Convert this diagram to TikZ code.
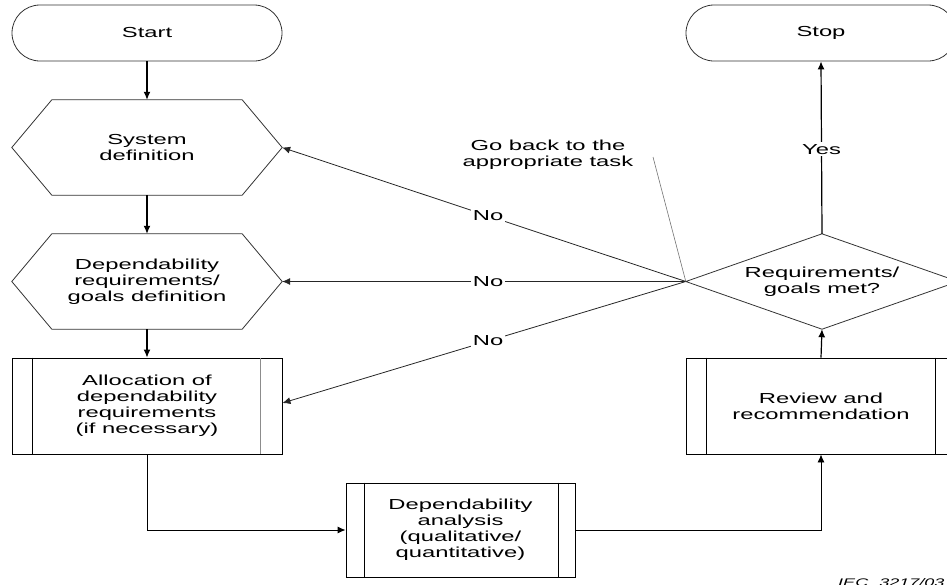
\documentclass[tikz,border=0pt]{standalone}
\usepackage{fontspec}
\setmainfont{Liberation Sans}[FakeStretch=1.64]
\usetikzlibrary{arrows.meta,calc}

\tikzset{
  lbl/.style={font=\fontsize{14.5}{16}\selectfont, align=center, text=black},
  frame/.style={lbl, inner sep=0pt, minimum width=270pt, minimum height=95pt},
  boxed/.style={frame, draw=black, line width=0.9pt, minimum height=96pt},
  outline/.style={draw=black!80, line width=0.8pt},
  flow/.style={draw=black, line width=1.2pt, -{Latex[length=8pt,width=7pt]}},
  back/.style={draw=black!85, line width=0.8pt, -{Latex[length=8pt,width=7pt]}},
  tag/.style={lbl, fill=white, inner sep=2pt},
}

\begin{document}
\begin{tikzpicture}[x=1pt, y=-1pt]
\useasboundingbox (0,0) rectangle (947,584);
\clip (0,0) rectangle (947,584);

% terminals
\node[frame, minimum height=56pt, draw=black!80, line width=0.8pt, rounded corners=28pt] (start) at (147,33) {Start};
\node[frame, minimum height=56pt, draw=black!80, line width=0.8pt, rounded corners=28pt] (stop) at (821,33) {Stop};

% preparation steps (hexagons)
\node[frame] (sys) at (147,147.5) {System\\definition};
\node[frame] (req) at (147,281.5) {Dependability\\requirements/\\goals definition};
\foreach \n in {sys,req}{
  \draw[outline] ($(\n.north west)+(40,0)$) -- ($(\n.north east)+(-40,0)$) -- (\n.east)
    -- ($(\n.south east)+(-40,0)$) -- ($(\n.south west)+(40,0)$) -- (\n.west) -- cycle;
}

% predefined processes
\node[boxed] (alloc) at (147,406) {Allocation of\\dependability\\requirements\\(if necessary)};
\draw[line width=0.9pt] ($(alloc.north west)+(21,0)$) -- ($(alloc.south west)+(21,0)$);
\draw[line width=0.9pt, black!45] ($(alloc.north east)+(-22,0)$) -- ($(alloc.south east)+(-22,0)$);

\node[boxed, minimum width=229pt, minimum height=94pt] (ana) at (460.5,530) {Dependability\\analysis\\(qualitative/\\quantitative)};
\draw[line width=0.9pt] ($(ana.north west)+(19,0)$) -- ($(ana.south west)+(19,0)$);
\draw[line width=0.9pt] ($(ana.north east)+(-17,0)$) -- ($(ana.south east)+(-17,0)$);

\node[boxed] (rev) at (821,406) {Review and\\recommendation};
\draw[line width=0.9pt] ($(rev.north west)+(21,0)$) -- ($(rev.south west)+(21,0)$);
\draw[line width=0.9pt] ($(rev.north east)+(-21,0)$) -- ($(rev.south east)+(-21,0)$);

% decision
\node[frame, minimum width=272pt] (dec) at (822,281.5) {Requirements/\\goals met?};
\draw[outline] (dec.north) -- (dec.east) -- (dec.south) -- (dec.west) -- cycle;

% main flow
\draw[flow] (start) -- (sys);
\draw[flow] (sys) -- (req);
\draw[flow] (req) -- (alloc);
\draw[flow, line width=0.9pt] (alloc.south) |- (ana.west);
\draw[flow, line width=0.9pt] (ana.east) -| (rev.south);
\draw[flow] (rev.north) -- (dec.south);
\draw[flow] (dec.north) -- node[tag, pos=0.49] (yes) {Yes} (stop.south);

% loops back
\coordinate (allocin) at ($(alloc.east)+(0,-3)$);
\draw[back] (dec.west) -- node[tag, pos=0.49] (no1) {No} (sys.east);
\draw[back] (dec.west) -- node[tag, pos=0.49] (no2) {No} (req.east);
\draw[back] (dec.west) -- node[tag, pos=0.49] (no3) {No} (allocin);

% note
\node[lbl] (note) at (548,155) {Go back to the\\appropriate task};
\coordinate (notefoot) at (653,157);
\draw[black!55, line width=0.6pt] (notefoot) -- (dec.west);

% figure reference, running off the lower edge
\node[anchor=north west, inner sep=0pt, font=\fontsize{11}{12}\selectfont\itshape] (iec) at (838,578) {IEC\quad 3217/03};
\end{tikzpicture}
\end{document}
